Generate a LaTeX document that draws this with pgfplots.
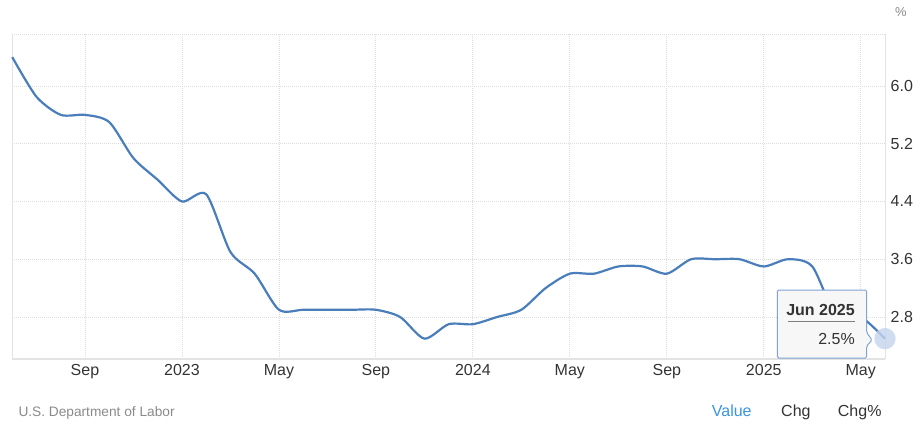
\documentclass[border=0pt]{standalone}
\usepackage{pgfplots}
\pgfplotsset{compat=1.18}
\usepackage{fontspec}
\setmainfont{Liberation Sans}
\definecolor{linec}{HTML}{4A7EBB}
\definecolor{gridc}{HTML}{DDDDDD}
\definecolor{bordc}{HTML}{E3E3E3}
\definecolor{tickc}{HTML}{333333}
\definecolor{srcc}{HTML}{8A8A8A}
\definecolor{valc}{HTML}{3A94E0}
\definecolor{tipfill}{HTML}{F7F7F7}
\definecolor{tipdraw}{HTML}{7FA3D3}
\definecolor{dotc}{HTML}{C4D5EC}
\begin{document}
\begin{tikzpicture}[x=1pt,y=1pt]
\useasboundingbox (0,0) rectangle (913,437);
\begin{axis}[
  at={(12.25pt,78pt)}, anchor=south west,
  scale only axis, width=872.75pt, height=325pt,
  xmin=0, xmax=36, ymin=2.218, ymax=6.72,
  clip=false,
  axis line style={draw=none},
  major tick length=0pt,
  xtick={3,7,11,15,19,23,27,31,35},
  xticklabels={Sep,2023,May,Sep,2024,May,Sep,2025,May},
  ytick={2.8,3.6,4.4,5.2,6.0},
  yticklabels={2.8,3.6,4.4,5.2,6.0},
  yticklabel pos=right,
  grid=major,
  major grid style={draw=gridc, dash pattern=on 1pt off 1pt, line width=0.8pt},
  xticklabel style={font=\fontsize{16}{19}\selectfont, text=tickc, anchor=base, inner sep=0pt, yshift=-16pt},
  yticklabel style={font=\fontsize{16}{19}\selectfont, text=tickc, anchor=west, inner sep=0pt, xshift=5.5pt},
]
\draw[bordc, line width=1pt] (rel axis cs:0,0) -- (rel axis cs:0,1);
\draw[bordc, line width=1pt] (rel axis cs:1,0) -- (rel axis cs:1,1);
\draw[bordc, line width=1.6pt] (rel axis cs:0,0) -- (rel axis cs:1,0);
\draw[gridc, dash pattern=on 1pt off 1pt, line width=0.8pt] (rel axis cs:0,1) -- (rel axis cs:1,1);
\addplot[linec, line width=2.2pt, smooth, tension=0.45] coordinates {
(0,6.4) (1,5.85) (2,5.6) (3,5.6) (4,5.5) (5,5.0) (6,4.7) (7,4.4) (8,4.5)
(9,3.7) (10,3.4) (11,2.9) (12,2.9) (13,2.9) (14,2.9) (15,2.9) (16,2.8)
(17,2.5) (18,2.7) (19,2.7) (20,2.8) (21,2.9) (22,3.2) (23,3.4) (24,3.4)
(25,3.5) (26,3.5) (27,3.4) (28,3.6) (29,3.6) (30,3.6) (31,3.5) (32,3.6)
(33,3.5) (34,2.8) (35,2.8) (36,2.5)
};
\addplot[draw=none, only marks, mark=*, mark size=10.7pt, mark options={draw=none, draw opacity=0, fill=dotc, fill opacity=0.8}] coordinates {(36,2.5)};
\end{axis}
% tooltip
\draw[tipdraw, fill=tipfill, line width=1pt, rounded corners=1.5pt]
  (777.3,79) -- (777.3,147) -- (866.7,147) -- (866.7,104.5) -- (872,97) -- (866.7,91) -- (866.7,79) -- cycle;
\node[anchor=base east, inner sep=0pt, text=tickc, font=\fontsize{16}{19}\selectfont\bfseries] at (855,122) {Jun 2025};
\draw[gray, line width=1pt] (788.3,115.3) -- (855,115.3);
\node[anchor=base east, inner sep=0pt, text=tickc, font=\fontsize{16}{19}\selectfont] at (855,93) {2.5\%};
% unit
\node[anchor=center, inner sep=0pt, text=srcc, font=\fontsize{13}{15}\selectfont] at (901,425) {\%};
% footer
\node[anchor=base west, inner sep=0pt, text=srcc, font=\fontsize{13.7}{16}\selectfont] at (18.3,21) {U.S. Department of Labor};
\node[anchor=base west, inner sep=0pt, text=valc, font=\fontsize{16}{19}\selectfont] at (711.7,21) {Value};
\node[anchor=base west, inner sep=0pt, text=tickc, font=\fontsize{16}{19}\selectfont] at (781,21) {Chg};
\node[anchor=base west, inner sep=0pt, text=tickc, font=\fontsize{16}{19}\selectfont] at (837.7,21) {Chg\%};
\end{tikzpicture}
\end{document}
